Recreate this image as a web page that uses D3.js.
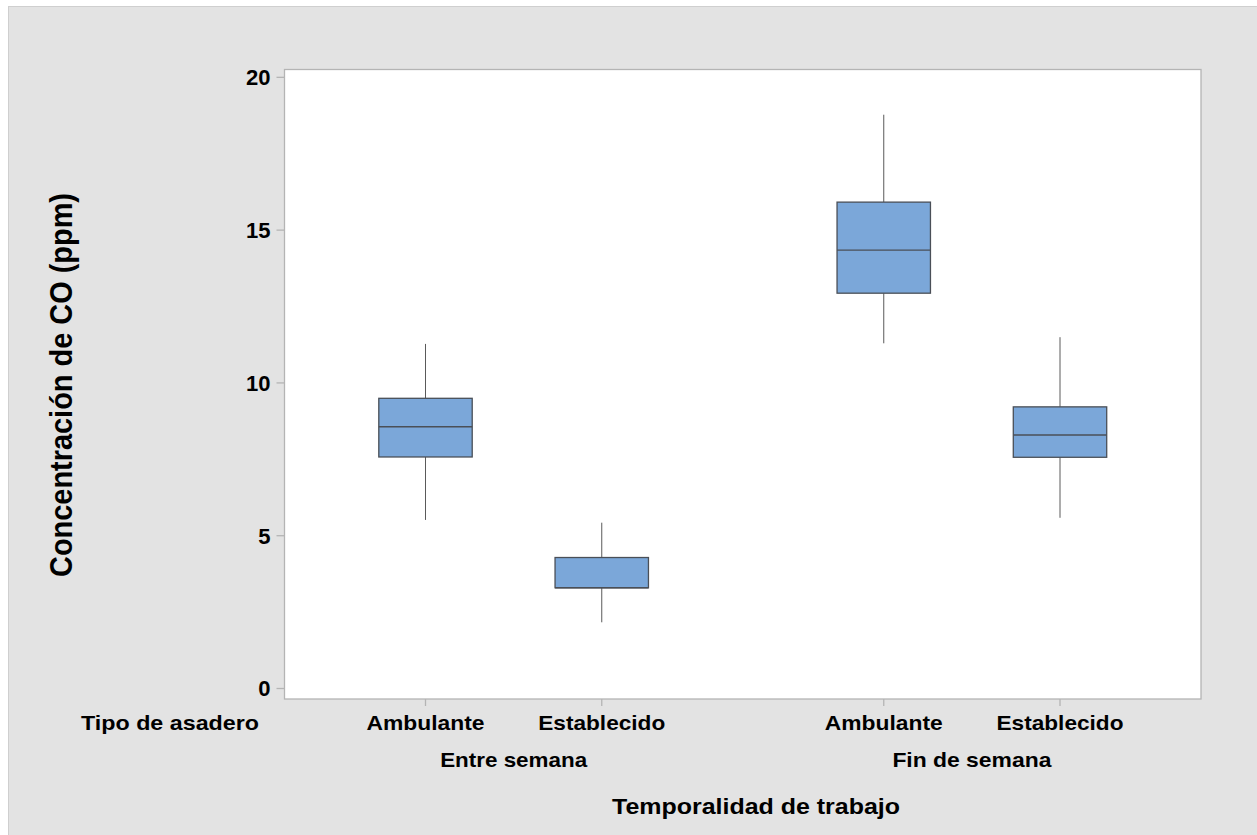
<!DOCTYPE html>
<html>
<head>
<meta charset="utf-8">
<script src="https://cdn.jsdelivr.net/npm/d3@7"></script>
<style>
  html, body { margin: 0; padding: 0; background: #ffffff; }
  svg { display: block; }
  text { font-family: "Liberation Sans", Arial, Helvetica, sans-serif; font-weight: bold; fill: #000; }
</style>
</head>
<body>
<svg id="chart" width="1257" height="835"></svg>
<script>
// ---- data ----
const groups = ["Entre semana", "Fin de semana"];
const types = ["Ambulante", "Establecido"];
const whiskerLow  = [5.50, 2.15, 11.28, 5.57];
const q1          = [7.56, 3.28, 12.92, 7.55];
const median      = [8.55, 3.28, 14.33, 8.28];
const q3          = [9.48, 4.27, 15.90, 9.20];
const whiskerHigh = [11.26, 5.41, 18.76, 11.48];
const yTicks = [0, 5, 10, 15, 20];
const yTitle = "Concentración de CO (ppm)";
const xTitle = "Temporalidad de trabajo";
const rowLabel = "Tipo de asadero";

const boxes = [];
groups.forEach((g, gi) => types.forEach((t, ti) => {
  const i = gi * types.length + ti;
  boxes.push({group: g, type: t, lo: whiskerLow[i], q1: q1[i], med: median[i], q3: q3[i], hi: whiskerHigh[i]});
}));

// ---- layout ----
const svg = d3.select("#chart");
const plot = {left: 284.5, top: 69.5, right: 1201, bottom: 699};

svg.append("rect").attr("x", 8.5).attr("y", 6.5).attr("width", 1257).attr("height", 835)
  .attr("fill", "#e3e3e3").attr("stroke", "#cfcfcf").attr("stroke-width", 1);

svg.append("rect").attr("x", plot.left).attr("y", plot.top)
  .attr("width", plot.right - plot.left).attr("height", plot.bottom - plot.top)
  .attr("fill", "#ffffff").attr("stroke", "#b4b4b4").attr("stroke-width", 1.3);

const y = d3.scaleLinear().domain([-0.36, 20.24]).range([plot.bottom, plot.top]);
const xGroup = d3.scaleBand().domain(groups).range([plot.left, plot.right]).paddingInner(0).paddingOuter(0);
const xType = d3.scalePoint().domain(types).range([0, xGroup.bandwidth()]).padding(0.8);
const cx = d => xGroup(d.group) + xType(d.type);
const boxW = xType.step() * 0.53;

// y axis
const yAxis = d3.axisLeft(y).tickValues(yTicks).tickSize(8).tickPadding(6).tickFormat(d3.format("d"));
const gy = svg.append("g").attr("transform", `translate(${plot.left},0)`).call(yAxis);
gy.select(".domain").remove();
gy.selectAll(".tick line").attr("stroke", "#b4b4b4").attr("stroke-width", 1.3);
gy.selectAll(".tick text").attr("font-size", 22).attr("font-family", "Liberation Sans, Arial, sans-serif")
  .attr("font-weight", "bold").attr("fill", "#000").attr("dy", "0.36em");

// x ticks
svg.append("g").selectAll("line").data(boxes).join("line")
  .attr("x1", d => cx(d)).attr("x2", d => cx(d))
  .attr("y1", plot.bottom).attr("y2", plot.bottom + 7)
  .attr("stroke", "#b4b4b4").attr("stroke-width", 1.3);

// whiskers
const gb = svg.append("g");
gb.selectAll("line.wh").data(boxes).join("line").attr("class", "wh")
  .attr("x1", d => cx(d)).attr("x2", d => cx(d))
  .attr("y1", d => y(d.hi)).attr("y2", d => y(d.q3))
  .attr("stroke", "#5a5a5a").attr("stroke-width", 1);
gb.selectAll("line.wl").data(boxes).join("line").attr("class", "wl")
  .attr("x1", d => cx(d)).attr("x2", d => cx(d))
  .attr("y1", d => y(d.q1)).attr("y2", d => y(d.lo))
  .attr("stroke", "#5a5a5a").attr("stroke-width", 1);
// boxes
gb.selectAll("rect").data(boxes).join("rect")
  .attr("x", d => cx(d) - boxW / 2).attr("width", boxW)
  .attr("y", d => y(d.q3)).attr("height", d => y(d.q1) - y(d.q3))
  .attr("fill", "#7ba7d9").attr("stroke", "#4a4f57").attr("stroke-width", 1.3);
// medians
gb.selectAll("line.med").data(boxes).join("line").attr("class", "med")
  .attr("x1", d => cx(d) - boxW / 2).attr("x2", d => cx(d) + boxW / 2)
  .attr("y1", d => y(d.med)).attr("y2", d => y(d.med))
  .attr("stroke", "#4a4f57").attr("stroke-width", 1.3);

// category labels
const typeWidths = {"Ambulante": 118, "Establecido": 127};
svg.append("g").selectAll("text").data(boxes).join("text")
  .attr("x", d => cx(d)).attr("y", 730).attr("text-anchor", "middle")
  .attr("font-size", 21).attr("textLength", d => typeWidths[d.type]).attr("lengthAdjust", "spacingAndGlyphs")
  .text(d => d.type);

const groupWidths = {"Entre semana": 147, "Fin de semana": 159};
svg.append("g").selectAll("text").data(groups).join("text")
  .attr("x", d => xGroup(d) + xGroup.bandwidth() / 2).attr("y", 767).attr("text-anchor", "middle")
  .attr("font-size", 21).attr("textLength", d => groupWidths[d]).attr("lengthAdjust", "spacingAndGlyphs")
  .text(d => d);

svg.append("text").attr("x", 81).attr("y", 730).attr("text-anchor", "start")
  .attr("font-size", 21).attr("textLength", 178).attr("lengthAdjust", "spacingAndGlyphs")
  .text(rowLabel);

svg.append("text").attr("x", 756).attr("y", 814).attr("text-anchor", "middle")
  .attr("font-size", 22).attr("textLength", 288).attr("lengthAdjust", "spacingAndGlyphs")
  .text(xTitle);

svg.append("text").attr("transform", "translate(72,385) scale(1.1,1) rotate(-90)")
  .attr("text-anchor", "middle").attr("font-size", 29)
  .attr("textLength", 384).attr("lengthAdjust", "spacingAndGlyphs")
  .text(yTitle);
</script>
</body>
</html>
